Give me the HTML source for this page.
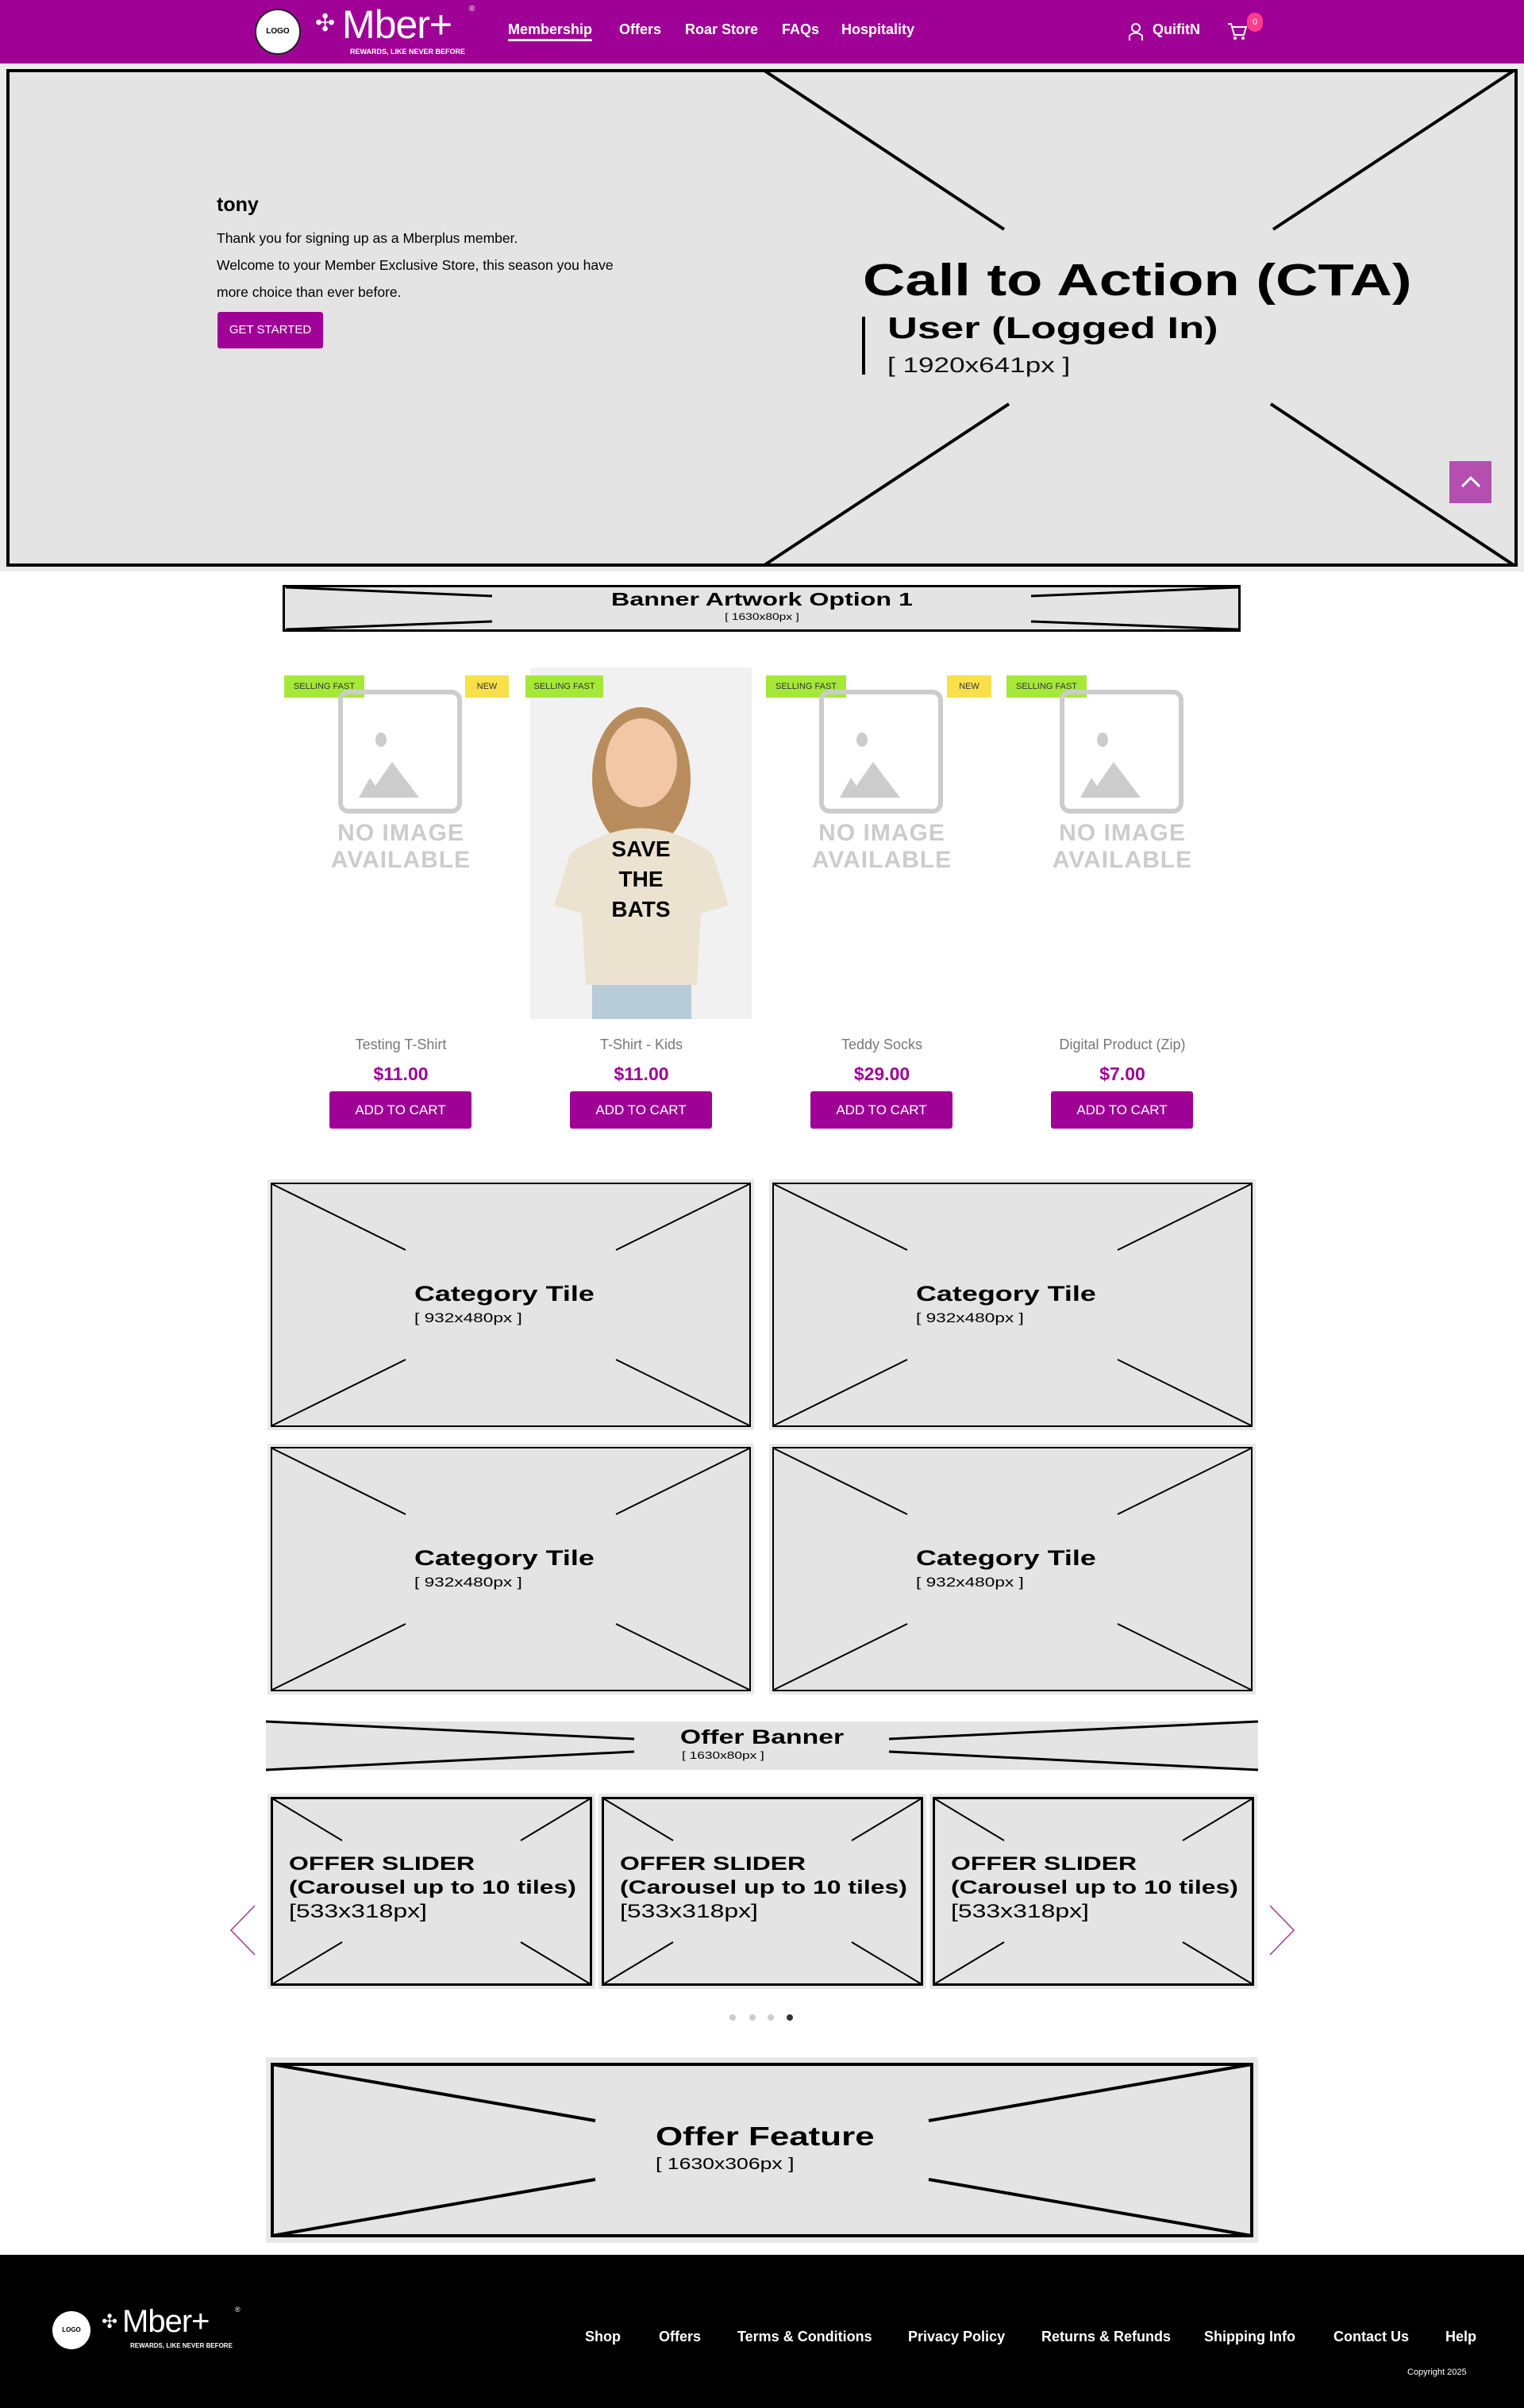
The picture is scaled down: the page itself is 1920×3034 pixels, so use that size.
<!DOCTYPE html>
<html><head><meta charset="utf-8"><style>
*{margin:0;padding:0;box-sizing:border-box}
body{width:1920px;height:3034px;position:relative;background:#fff;font-family:"Liberation Sans",sans-serif;overflow:hidden}
.a{position:absolute}
.n{font-family:"Liberation Sans Narrow","Liberation Sans",sans-serif}
.hd{font-family:"Liberation Sans",sans-serif;font-weight:900;color:#000;white-space:nowrap}
.sx{transform-origin:0 50%}
.c{text-align:center;white-space:nowrap}
.badge{position:absolute;top:851px;height:28px;font-size:11px;line-height:28px;text-align:center;color:#333}
.g{background:#a6e83a}.y{background:#f9e04b}
.btn{position:absolute;top:1375px;width:179px;height:47px;background:#9f0096;color:#fff;font-size:17px;line-height:47px;text-align:center;border-radius:3px}
.nm{position:absolute;top:1306px;width:300px;text-align:center;font-size:18px;color:#777}
.pr{position:absolute;top:1340px;width:300px;text-align:center;font-size:23px;color:#9f0096;font-weight:bold}
.tile{position:absolute;background:#e4e4e4;border:2px solid #000;box-shadow:0 0 0 4px #e8e8e8}
.fl{position:absolute;top:2934px;color:#fff;font-weight:bold;font-size:18px}
.ct{transform:scaleX(1.33);transform-origin:0 50%}
</style></head><body>
<!-- header -->
<div class="a" style="left:0;top:0;width:1920px;height:80px;background:#9f0096"></div>
<div class="a" style="left:321px;top:11px;width:58px;height:58px;border-radius:50%;background:#fff;border:2px solid #222;font-size:10px;font-weight:bold;line-height:54px;text-align:center">LOGO</div>
<div class="a" style="left:397px;top:4px;width:205px;height:66px;color:#fff">
 <div class="a" style="left:0;top:8px;font-size:30px;color:#fff">✣</div>
 <div class="a" style="left:34px;top:-2px;font-size:50px;font-family:'Liberation Sans';letter-spacing:-1px">Mber+</div>
 <div class="a" style="left:194px;top:2px;font-size:10px">®</div>
 <div class="a n" style="left:44px;top:56px;font-size:9px;font-weight:bold">REWARDS, LIKE NEVER BEFORE</div>
</div>
<div class="a n" style="left:640px;top:27px;font-size:18px;color:#fff;font-weight:bold;border-bottom:3px solid #fff;padding-bottom:1px">Membership</div>
<div class="a n" style="left:780px;top:27px;font-size:18px;color:#fff;font-weight:bold">Offers</div>
<div class="a n" style="left:863px;top:27px;font-size:18px;color:#fff;font-weight:bold">Roar Store</div>
<div class="a n" style="left:985px;top:27px;font-size:18px;color:#fff;font-weight:bold">FAQs</div>
<div class="a n" style="left:1060px;top:27px;font-size:18px;color:#fff;font-weight:bold">Hospitality</div>
<svg class="a" style="left:1420px;top:28px" width="22" height="24"><circle cx="11" cy="7" r="5" fill="none" stroke="#fff" stroke-width="2"/><path d="M3 23 V17 Q11 10 19 17 V23" fill="none" stroke="#fff" stroke-width="2"/></svg>
<div class="a n" style="left:1452px;top:27px;font-size:18px;color:#fff;font-weight:bold">QuifitN</div>
<svg class="a" style="left:1546px;top:28px" width="26" height="24"><path d="M1 2 H5 L9 16 H21 L24 6 H7" fill="none" stroke="#fff" stroke-width="2"/><circle cx="10" cy="20" r="2" fill="#fff"/><circle cx="20" cy="20" r="2" fill="#fff"/></svg>
<div class="a" style="left:1571px;top:16px;width:20px;height:24px;border-radius:10px;background:#ff3c8e;color:#fff;font-size:11px;text-align:center;line-height:24px">0</div>

<!-- hero -->
<div class="a" style="left:0;top:80px;width:1920px;height:640px;background:#ececec"></div>
<div class="a" style="left:8px;top:87px;width:1904px;height:627px;background:#e4e4e4;border:4px solid #000"></div>
<div class="a n" style="left:273px;top:244px;font-size:25px;font-weight:bold">tony</div>
<div class="a n" style="left:273px;top:283px;font-size:17.5px;line-height:34px">Thank you for signing up as a Mberplus member.<br>Welcome to your Member Exclusive Store, this season you have<br>more choice than ever before.</div>
<div class="a n" style="left:274px;top:393px;width:133px;height:46px;background:#9f0096;color:#fff;font-size:15px;line-height:46px;text-align:center;border-radius:3px">GET STARTED</div>
<div class="a hd sx" style="left:1087px;top:320px;font-size:57px;transform:scaleX(1.3)">Call to Action (CTA)</div>
<div class="a" style="left:1086px;top:399px;width:4px;height:73px;background:#000"></div>
<div class="a hd sx" style="left:1118px;top:393px;font-size:38px;transform:scaleX(1.38)">User (Logged In)</div>
<div class="a sx" style="left:1118px;top:445px;font-size:27px;color:#111;white-space:nowrap;transform:scaleX(1.3)">[ 1920x641px ]</div>
<div class="a" style="left:1826px;top:581px;width:53px;height:53px;background:#b44fb0"></div>
<svg class="a" style="left:1838px;top:597px" width="30" height="20"><path d="M4 16 L15 5 L26 16" fill="none" stroke="#fff" stroke-width="3"/></svg>

<!-- banner artwork -->
<div class="a" style="left:356px;top:737px;width:1207px;height:59px;background:#e4e4e4;border:3px solid #000"></div>
<div class="a hd c" style="left:660px;top:742px;width:600px;font-size:23px;transform:scaleX(1.4)">Banner Artwork Option 1</div>
<div class="a c" style="left:660px;top:770px;width:600px;font-size:12px;transform:scaleX(1.3)">[ 1630x80px ]</div>

<!-- products -->
<div class="badge g n" style="left:358px;width:101px">SELLING FAST</div>
<div class="badge y n" style="left:586px;width:55px">NEW</div>
<div class="a" style="left:668px;top:841px;width:279px;height:443px;background:#f1f1f1;overflow:hidden">
 <svg width="279" height="443"><ellipse cx="140" cy="140" rx="62" ry="90" fill="#b98c5e"/><ellipse cx="140" cy="120" rx="45" ry="56" fill="#f1c7a5"/><path d="M50 235 Q140 170 230 235 L250 300 L215 310 L210 400 L70 400 L65 310 L30 300 Z" fill="#ece2d0"/><rect x="78" y="400" width="125" height="43" fill="#b7cbd8"/></svg>
 <div class="a hd c" style="left:0;top:210px;width:279px;font-size:28px;line-height:38px;font-weight:bold;font-family:'Liberation Sans Narrow',sans-serif">SAVE<br>THE<br>BATS</div>
</div>
<div class="badge g n" style="left:662px;width:98px">SELLING FAST</div>
<div class="badge g n" style="left:965px;width:101px">SELLING FAST</div>
<div class="badge y n" style="left:1193px;width:56px">NEW</div>
<div class="badge g n" style="left:1268px;width:101px">SELLING FAST</div>

<div class="nm n" style="left:355px">Testing T-Shirt</div>
<div class="nm n" style="left:658px">T-Shirt - Kids</div>
<div class="nm n" style="left:961px">Teddy Socks</div>
<div class="nm n" style="left:1264px">Digital Product (Zip)</div>
<div class="pr n" style="left:355px">$11.00</div>
<div class="pr n" style="left:658px">$11.00</div>
<div class="pr n" style="left:961px">$29.00</div>
<div class="pr n" style="left:1264px">$7.00</div>
<div class="btn n" style="left:415px">ADD TO CART</div>
<div class="btn n" style="left:718px">ADD TO CART</div>
<div class="btn n" style="left:1021px">ADD TO CART</div>
<div class="btn n" style="left:1324px">ADD TO CART</div>

<!-- category tiles -->
<div class="tile" style="left:341px;top:1490px;width:605px;height:308px"></div>
<div class="tile" style="left:973px;top:1490px;width:605px;height:308px"></div>
<div class="tile" style="left:341px;top:1823px;width:605px;height:308px"></div>
<div class="tile" style="left:973px;top:1823px;width:605px;height:308px"></div>

<!-- offer banner -->
<div class="a" style="left:335px;top:2169px;width:1250px;height:61px;background:#e4e4e4"></div>

<!-- sliders -->
<div class="tile" style="left:341px;top:2264px;width:405px;height:238px;border-width:3px"></div>
<div class="tile" style="left:758px;top:2264px;width:405px;height:238px;border-width:3px"></div>
<div class="tile" style="left:1175px;top:2264px;width:405px;height:238px;border-width:3px"></div>

<!-- offer feature -->
<div class="a" style="left:335px;top:2592px;width:1250px;height:234px;background:#e8e8e8"></div>
<div class="a" style="left:341px;top:2599px;width:1238px;height:220px;background:#e4e4e4;border:4px solid #000"></div>

<!-- lines -->
<svg class="a" style="left:0;top:0" width="1920" height="3034">
<g stroke="#000" stroke-width="4" fill="none">
<line x1="963" y1="89" x2="1265" y2="289"/><line x1="1907" y1="89" x2="1604" y2="289"/>
<line x1="1271" y1="509" x2="963" y2="712"/><line x1="1601" y1="509" x2="1907" y2="712"/>
</g>
<g stroke="#000" stroke-width="3">
<line x1="360" y1="740" x2="620" y2="751"/><line x1="360" y1="793" x2="620" y2="783"/>
<line x1="1299" y1="751" x2="1560" y2="740"/><line x1="1299" y1="783" x2="1560" y2="793"/>
<line x1="335" y1="2169" x2="799" y2="2191"/><line x1="335" y1="2230" x2="799" y2="2207"/>
<line x1="1120" y1="2191" x2="1585" y2="2169"/><line x1="1120" y1="2207" x2="1585" y2="2230"/>
</g>
<g stroke="#000" stroke-width="2">
<path d="M343 1492 l168 83 M944 1492 l-168 83 M343 1796 l168 -83 M944 1796 l-168 -83"/>
<path d="M975 1492 l168 83 M1576 1492 l-168 83 M975 1796 l168 -83 M1576 1796 l-168 -83"/>
<path d="M343 1825 l168 83 M944 1825 l-168 83 M343 2129 l168 -83 M944 2129 l-168 -83"/>
<path d="M975 1825 l168 83 M1576 1825 l-168 83 M975 2129 l168 -83 M1576 2129 l-168 -83"/>
<path d="M343 2266 l88 53 M744 2266 l-88 53 M343 2500 l88 -53 M744 2500 l-88 -53"/>
<path d="M760 2266 l88 53 M1161 2266 l-88 53 M760 2500 l88 -53 M1161 2500 l-88 -53"/>
<path d="M1177 2266 l88 53 M1578 2266 l-88 53 M1177 2500 l88 -53 M1578 2500 l-88 -53"/>
</g>
<g stroke="#000" stroke-width="4">
<line x1="343" y1="2601" x2="750" y2="2672"/><line x1="343" y1="2817" x2="750" y2="2746"/>
<line x1="1170" y1="2672" x2="1577" y2="2601"/><line x1="1170" y1="2746" x2="1577" y2="2817"/>
</g>
<g stroke="#9f3a96" stroke-width="1.5" fill="none">
<path d="M321 2401 L291 2432 L321 2463"/><path d="M1600 2401 L1630 2432 L1600 2463"/>
</g>
<g fill="#ccc"><circle cx="923" cy="2542" r="4"/><circle cx="948" cy="2542" r="4"/><circle cx="971" cy="2542" r="4"/></g>
<circle cx="995" cy="2542" r="4" fill="#333"/>
<g fill="none" stroke="#ccc" stroke-width="6">
<rect x="429" y="872" width="150" height="150" rx="10"/>
<rect x="1035" y="872" width="150" height="150" rx="10"/>
<rect x="1338" y="872" width="150" height="150" rx="10"/>
</g>
<g fill="#ccc">
<ellipse cx="480" cy="932" rx="7" ry="9"/><path d="M452 1005 L466 980 L473 990 L494 960 L528 1005 Z"/>
<ellipse cx="1086" cy="932" rx="7" ry="9"/><path d="M1058 1005 L1072 980 L1079 990 L1100 960 L1134 1005 Z"/>
<ellipse cx="1389" cy="932" rx="7" ry="9"/><path d="M1361 1005 L1375 980 L1382 990 L1403 960 L1437 1005 Z"/>
</g>
</svg>
<div class="a n c" style="left:355px;top:1033px;width:300px;font-size:30px;line-height:34px;color:#ccc;font-weight:bold;letter-spacing:1px">NO IMAGE<br>AVAILABLE</div>
<div class="a n c" style="left:961px;top:1033px;width:300px;font-size:30px;line-height:34px;color:#ccc;font-weight:bold;letter-spacing:1px">NO IMAGE<br>AVAILABLE</div>
<div class="a n c" style="left:1264px;top:1033px;width:300px;font-size:30px;line-height:34px;color:#ccc;font-weight:bold;letter-spacing:1px">NO IMAGE<br>AVAILABLE</div>

<!-- tile labels -->
<div class="a hd ct" style="left:522px;top:1615px;font-size:27px">Category Tile</div>
<div class="a ct" style="left:522px;top:1651px;font-size:17px">[ 932x480px ]</div>
<div class="a hd ct" style="left:1154px;top:1615px;font-size:27px">Category Tile</div>
<div class="a ct" style="left:1154px;top:1651px;font-size:17px">[ 932x480px ]</div>
<div class="a hd ct" style="left:522px;top:1948px;font-size:27px">Category Tile</div>
<div class="a ct" style="left:522px;top:1984px;font-size:17px">[ 932x480px ]</div>
<div class="a hd ct" style="left:1154px;top:1948px;font-size:27px">Category Tile</div>
<div class="a ct" style="left:1154px;top:1984px;font-size:17px">[ 932x480px ]</div>

<div class="a hd c" style="left:760px;top:2175px;width:400px;font-size:25px;transform:scaleX(1.35)">Offer Banner</div>
<div class="a ct" style="left:859px;top:2204px;font-size:13px">[ 1630x80px ]</div>

<div class="a ct" style="left:364px;top:2334px;font-size:24px;line-height:30px;white-space:nowrap"><b style="font-weight:900">OFFER SLIDER<br>(Carousel up to 10 tiles)</b><br>[533x318px]</div>
<div class="a ct" style="left:781px;top:2334px;font-size:24px;line-height:30px;white-space:nowrap"><b style="font-weight:900">OFFER SLIDER<br>(Carousel up to 10 tiles)</b><br>[533x318px]</div>
<div class="a ct" style="left:1198px;top:2334px;font-size:24px;line-height:30px;white-space:nowrap"><b style="font-weight:900">OFFER SLIDER<br>(Carousel up to 10 tiles)</b><br>[533x318px]</div>

<div class="a hd ct" style="left:826px;top:2673px;font-size:33px">Offer Feature</div>
<div class="a ct" style="left:826px;top:2716px;font-size:20px">[ 1630x306px ]</div>

<!-- footer -->
<div class="a" style="left:0;top:2841px;width:1920px;height:193px;background:#000"></div>
<div class="a" style="left:66px;top:2912px;width:48px;height:48px;border-radius:50%;background:#fff;font-size:8px;font-weight:bold;line-height:48px;text-align:center">LOGO</div>
<div class="a" style="left:128px;top:2905px;width:180px;height:60px;color:#fff">
 <div class="a" style="left:0;top:6px;font-size:24px">✣</div>
 <div class="a" style="left:26px;top:-2px;font-size:40px;letter-spacing:-1px">Mber+</div>
 <div class="a" style="left:168px;top:0;font-size:9px">®</div>
 <div class="a n" style="left:36px;top:46px;font-size:8px;font-weight:bold">REWARDS, LIKE NEVER BEFORE</div>
</div>
<div class="fl n" style="left:737px">Shop</div>
<div class="fl n" style="left:830px">Offers</div>
<div class="fl n" style="left:929px">Terms &amp; Conditions</div>
<div class="fl n" style="left:1144px">Privacy Policy</div>
<div class="fl n" style="left:1312px">Returns &amp; Refunds</div>
<div class="fl n" style="left:1517px">Shipping Info</div>
<div class="fl n" style="left:1680px">Contact Us</div>
<div class="fl n" style="left:1821px">Help</div>
<div class="a n" style="left:1773px;top:2983px;font-size:11px;color:#fff">Copyright 2025</div>
</body></html>
